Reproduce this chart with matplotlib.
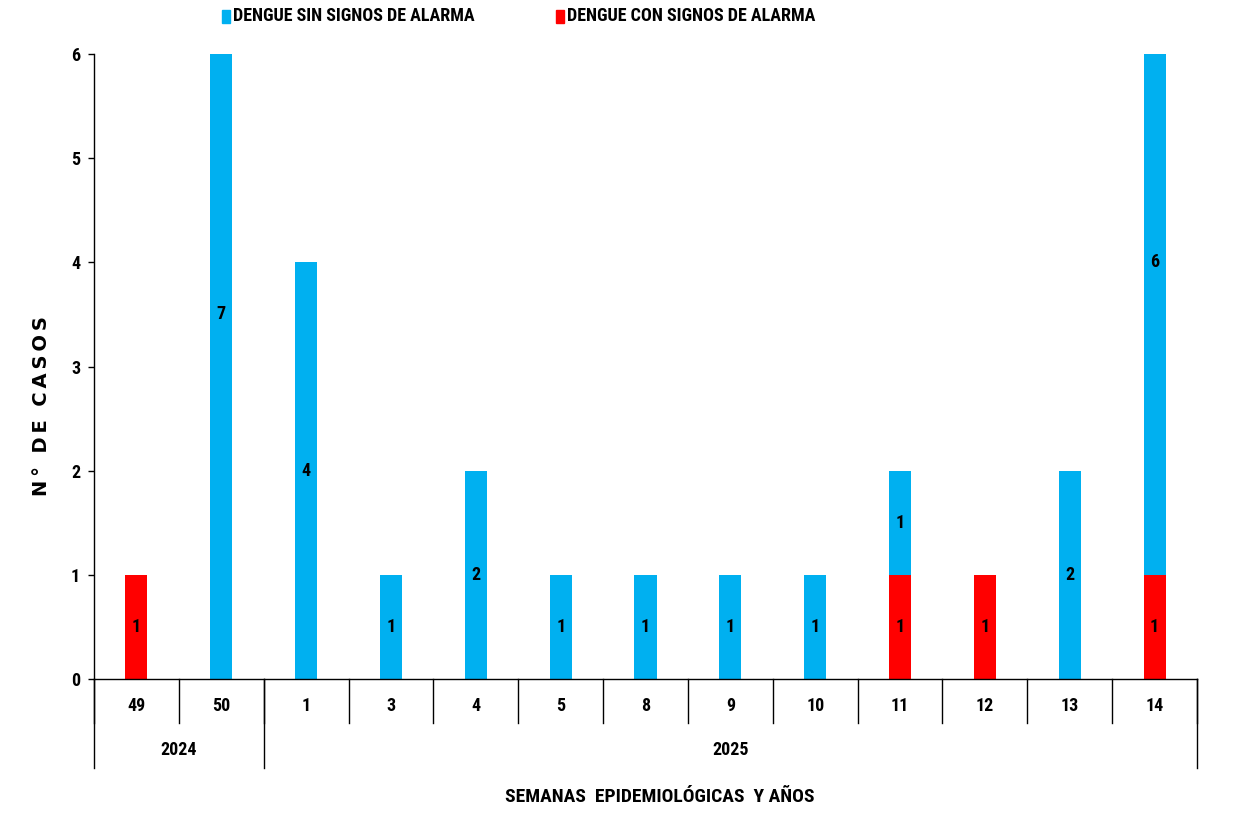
import numpy as np
import matplotlib.pyplot as plt
from matplotlib.patches import Rectangle
from matplotlib.transforms import blended_transform_factory

plt.rcParams['font.family'] = ['Roboto Condensed', 'DejaVu Sans']
plt.rcParams['font.stretch'] = 'condensed'
plt.rcParams['font.weight'] = 'bold'

# data
weeks = ['49', '50', '1', '3', '4', '5', '8', '9', '10', '11', '12', '13', '14']
years = ['2024', '2025']
weeks_per_year = [2, 11]
sin_alarma = [0, 7, 4, 1, 2, 1, 1, 1, 1, 1, 0, 2, 6]
con_alarma = [1, 0, 0, 0, 0, 0, 0, 0, 0, 1, 1, 0, 1]

blue = '#00B0F0'
red = '#FF0000'
fs = 13

fig = plt.figure(figsize=(12.47, 8.15), dpi=100)
ax = fig.add_axes([0.0754, 0.1669, 0.8845, 0.7668])

x = np.arange(len(weeks))
con = np.array(con_alarma)
sin = np.array(sin_alarma)
w = 0.26
ax.bar(x, con, width=w, color=red)
ax.bar(x, sin, width=w, bottom=con, color=blue)

# value labels in the middle of each segment
for i in range(len(weeks)):
    if con[i] > 0:
        ax.text(x[i], con[i] / 2, str(con[i]), ha='center', va='center', fontsize=fs, fontweight='bold')
    if sin[i] > 0:
        ax.text(x[i], con[i] + sin[i] / 2, str(sin[i]), ha='center', va='center', fontsize=fs, fontweight='bold')

ax.set_xlim(-0.5, len(weeks) - 0.5)
ax.set_ylim(0, 6)
ax.set_yticks(range(0, 7))
ax.tick_params(axis='y', labelsize=fs, length=4, width=1, pad=6)
for lbl in ax.get_yticklabels():
    lbl.set_fontweight('bold')
ax.set_xticks([])
ax.spines['top'].set_visible(False)
ax.spines['right'].set_visible(False)
ax.spines['left'].set_linewidth(1)
ax.spines['bottom'].set_linewidth(1)

# two-level category axis
trans = blended_transform_factory(ax.transData, ax.transAxes)
for b in np.arange(len(weeks) + 1) - 0.5:
    ax.plot([b, b], [0, -0.0704], transform=trans, color='black', lw=1, clip_on=False)
for i, wk in enumerate(weeks):
    ax.text(i, -0.043, wk, transform=trans, ha='center', va='center', fontsize=fs, fontweight='bold')

start = -0.5
ax.plot([start, start], [0, -0.1424], transform=trans, color='black', lw=1, clip_on=False)
for yr, n in zip(years, weeks_per_year):
    end = start + n
    ax.plot([end, end], [0, -0.1424], transform=trans, color='black', lw=1, clip_on=False)
    ax.text((start + end) / 2, -0.1136, yr, transform=trans, ha='center', va='center', fontsize=fs, fontweight='bold')
    start = end

fig.text(0.529, 0.022, 'SEMANAS  EPIDEMIOLÓGICAS  Y AÑOS', ha='center', va='center', fontsize=14, fontweight='bold')
ylab = '\u2009'.join('N°') + '  ' + '\u2009'.join('DE') + '  ' + '\u2009'.join('CASOS')
fig.text(0.033, 0.502, ylab, ha='center', va='center', rotation=90, fontsize=14, fontweight='bold',
         family='DejaVu Sans', fontstretch='normal')

# legend drawn by hand at the top
W, H = 1247, 815
for px, color, label in [(222, blue, 'DENGUE SIN SIGNOS DE ALARMA'),
                         (556, red, 'DENGUE CON SIGNOS DE ALARMA')]:
    fig.patches.append(Rectangle((px / W, 1 - 23 / H), 8 / W, 13 / H, color=color,
                                 transform=fig.transFigure, figure=fig))
    fig.text((px + 11) / W, 1 - 16 / H, label, ha='left', va='center', fontsize=fs, fontweight='bold')

fig.savefig('out.png', dpi=100)
